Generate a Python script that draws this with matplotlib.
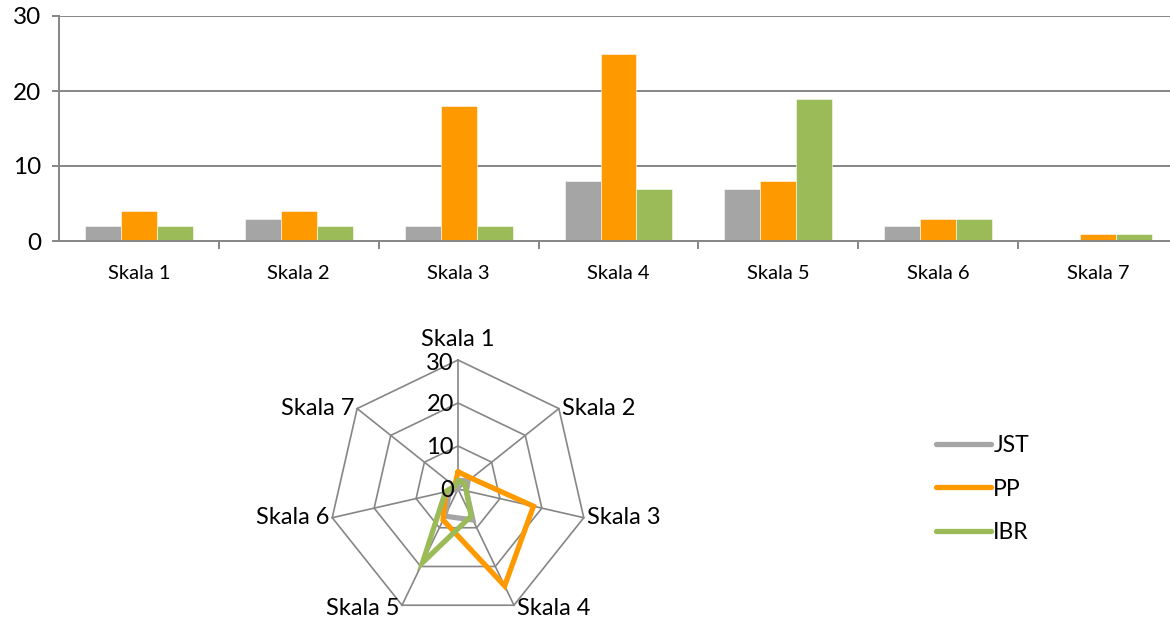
import numpy as np
import matplotlib
matplotlib.use('Agg')
import matplotlib.pyplot as plt

plt.rcParams['font.family'] = ['Lato', 'DejaVu Sans']

# data
categories = ['Skala 1', 'Skala 2', 'Skala 3', 'Skala 4', 'Skala 5', 'Skala 6', 'Skala 7']
jst = [2, 3, 2, 8, 7, 2, 0]
pp = [4, 4, 18, 25, 8, 3, 1]
ibr = [2, 2, 2, 7, 19, 3, 1]
series_names = ['JST', 'PP', 'IBR']
y_ticks = [0, 10, 20, 30]

colors = ['#A5A5A5', '#FF9900', '#9BBB59']
grid_col = '#868686'

fig = plt.figure(figsize=(11.7, 6.23), dpi=100)

# ---- bar chart on top
W, H = 1170, 623
ax = fig.add_axes([59 / W, 1 - 241 / H, (1178 - 59) / W, (241 - 16) / H])
x = np.arange(len(categories))
bw = 0.225
for i, vals in enumerate([jst, pp, ibr]):
    ax.bar(x + (i - 1) * bw, vals, bw, color=colors[i], edgecolor='white', linewidth=0.4, zorder=3)

ax.set_xlim(-0.5, len(categories) - 0.5)
ax.set_ylim(0, 30)
ax.set_yticks(y_ticks)
ax.set_yticklabels([str(t) for t in y_ticks], fontsize=17.5)
ax.yaxis.grid(True, color=grid_col, linewidth=1.4, zorder=0)
ax.set_axisbelow(True)
ax.set_xticks(x)
ax.set_xticklabels(categories, fontsize=14.5)
ax.set_xticks(np.arange(len(categories)) + 0.5, minor=True)
ax.tick_params(axis='x', which='major', length=0, pad=17)
ax.tick_params(axis='x', which='minor', length=6, width=1.4, color=grid_col)
ax.tick_params(axis='y', length=5, width=1.4, color=grid_col, pad=8)
for s in ['top', 'right']:
    ax.spines[s].set_visible(False)
for s in ['left', 'bottom']:
    ax.spines[s].set_color(grid_col)
    ax.spines[s].set_linewidth(1.4)
ax.spines['bottom'].set_zorder(4)

# ---- radar chart below
R = 129
cx, cy = 458, 489
pax = fig.add_axes([(cx - R) / W, 1 - (cy + R) / H, 2 * R / W, 2 * R / H], projection='polar')
pax.set_theta_zero_location('N')
pax.set_theta_direction(-1)
pax.set_ylim(0, 30)
pax.grid(False)
pax.spines['polar'].set_visible(False)
pax.set_xticks([])
pax.set_yticks([])
pax.patch.set_alpha(0)

n = len(categories)
angles = np.linspace(0, 2 * np.pi, n, endpoint=False)
closed = np.append(angles, angles[0])

for r in y_ticks[1:]:
    pax.plot(closed, [r] * (n + 1), color=grid_col, lw=1.2, clip_on=False, zorder=1)
for a in angles:
    pax.plot([a, a], [0, 30], color=grid_col, lw=1.2, clip_on=False, zorder=1)

lines = []
for i, vals in enumerate([jst, pp, ibr]):
    v = np.append(vals, vals[0])
    ln, = pax.plot(closed, v, color=colors[i], lw=3.8, solid_joinstyle='miter',
                   solid_capstyle='round', clip_on=False, zorder=3, label=series_names[i])
    lines.append(ln)

# axis labels around the radar
for a, lab in zip(angles, categories):
    s, c = np.sin(a), np.cos(a)
    if abs(s) < 0.1:
        ha, va, off = 'center', 'bottom', (0, 7)
    elif s > 0:
        ha, va, off = 'left', 'center', (2, -2 if c < -0.5 else 0)
    else:
        ha, va, off = 'right', 'center', (-2, -2 if c < -0.5 else 0)
    pax.annotate(lab, xy=(a, 30), xytext=off, textcoords='offset points',
                 ha=ha, va=va, fontsize=17, annotation_clip=False)

for t in y_ticks:
    pax.annotate(str(t), xy=(0, t), xytext=(-3, -2.5 if t == 30 else -1), textcoords='offset points',
                 ha='right', va='center', fontsize=17, annotation_clip=False)

fig.legend(handles=lines, loc='center left', bbox_to_anchor=(936 / W, 1 - 489 / H),
           frameon=False, fontsize=16.5, handlelength=2.4, handletextpad=0.1,
           labelspacing=1.0, borderpad=0, borderaxespad=0)

fig.savefig('out.png', dpi=100)
